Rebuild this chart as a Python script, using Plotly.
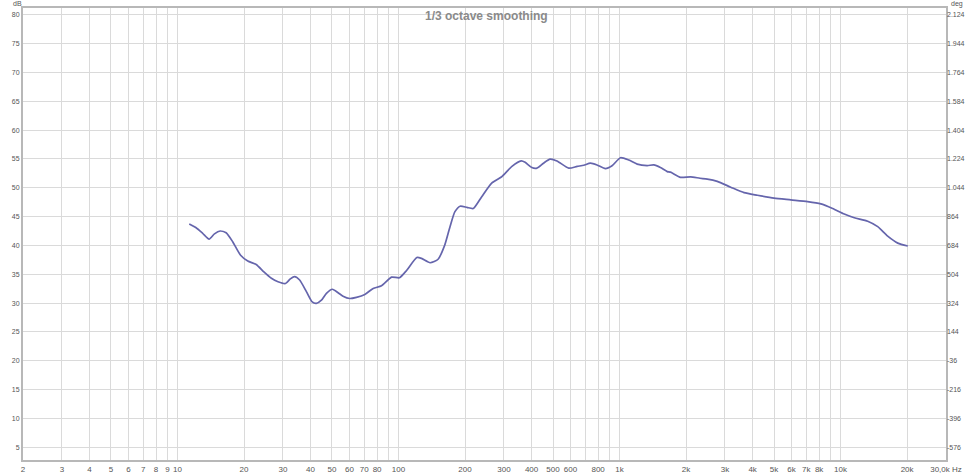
import plotly.graph_objects as go

# Frequency response (1/3 octave smoothing)
freq_hz = [11.3, 12.1, 13.0, 13.9, 14.7, 15.6, 16.6, 17.8, 19.3, 20.8, 22.7, 24.6, 26.6, 28.5,
           30.8, 32.4, 33.9, 35.7, 38.3, 40.7, 42.5, 44.8, 47.2, 50.2, 53.3, 56.1, 60.1, 64.5,
           70.4, 76.8, 83.8, 93, 101, 109, 121, 127, 139, 151, 162, 171, 180, 190, 204, 218,
           238, 264, 293, 326, 359, 374, 401, 423, 453, 485, 521, 589, 643, 689, 738, 791,
           863, 925, 1010, 1101, 1202, 1333, 1429, 1531, 1644, 1702, 1888, 2096, 2311, 2496,
           2768, 3184, 3658, 4206, 5002, 5958, 7092, 8148, 9206, 10394, 11536, 13268, 14730,
           16340, 18154, 20140]
level_db = [43.7, 43.1, 42.1, 41.1, 42.0, 42.5, 42.2, 40.6, 38.3, 37.3, 36.7, 35.4, 34.3, 33.7,
            33.4, 34.2, 34.6, 34.0, 32.0, 30.2, 29.95, 30.5, 31.7, 32.4, 31.8, 31.2, 30.8, 31.0,
            31.5, 32.55, 33.0, 34.5, 34.4, 35.7, 37.9, 37.75, 37.0, 37.6, 40.1, 43.25, 45.85, 46.8,
            46.6, 46.4, 48.45, 50.8, 51.9, 53.7, 54.65, 54.4, 53.5, 53.4, 54.25, 54.95, 54.65, 53.4,
            53.7, 53.9, 54.25, 53.95, 53.3, 53.8, 55.2, 54.8, 54.1, 53.85, 53.95, 53.5, 52.8, 52.7,
            51.8, 51.9, 51.65, 51.5, 51.1, 50.1, 49.15, 48.7, 48.2, 47.9, 47.6, 47.2, 46.4, 45.45,
            44.8, 44.2, 43.25, 41.6, 40.4, 39.9]

x_tick_vals = [2, 3, 4, 5, 6, 7, 8, 9, 10, 20, 30, 40, 50, 60, 70, 80, 90, 100,
               200, 300, 400, 500, 600, 700, 800, 900, 1000, 2000, 3000, 4000, 5000,
               6000, 7000, 8000, 9000, 10000, 20000, 30000]
x_tick_text = ["2", "3", "4", "5", "6", "7", "8", "9", "10", "20", "30", "40", "50", "60", "70",
               "80", "", "100", "200", "300", "400", "500", "600", "", "800", "", "1k", "2k",
               "3k", "4k", "5k", "6k", "7k", "8k", "", "10k", "20k", "30,0k Hz"]
db_ticks = [5, 10, 15, 20, 25, 30, 35, 40, 45, 50, 55, 60, 65, 70, 75, 80]
deg_ticks = [-576, -396, -216, -36, 144, 324, 504, 684, 864, 1044, 1224, 1404, 1584, 1764, 1944, 2124]
deg_labels = ["-576", "-396", "-216", "-36", "144", "324", "504", "684", "864", "1.044",
              "1.224", "1.404", "1.584", "1.764", "1.944", "2.124"]

db_range = [2.8, 81.16]
deg_range = [(v - 5) * 36 - 576 for v in db_range]

fig = go.Figure()
fig.add_trace(go.Scatter(x=freq_hz, y=level_db, mode="lines",
                         line=dict(color="#6565ac", width=1.7, shape="spline", smoothing=0.6),
                         showlegend=False, hoverinfo="x+y"))
fig.add_trace(go.Scatter(x=[None], y=[None], yaxis="y2", showlegend=False, hoverinfo="skip"))

font_family = "Liberation Sans, Arial, sans-serif"
tick_font = dict(family=font_family, size=8, color="#555555")
small_font = dict(family=font_family, size=7, color="#555555")
axis_line = dict(showline=True, linecolor="#b8b8b8", linewidth=2, mirror=True)

fig.update_layout(
    width=975, height=473,
    margin=dict(l=23, r=29, t=8, b=13, autoexpand=False),
    paper_bgcolor="white", plot_bgcolor="white",
    xaxis=dict(type="log", range=[0.30103, 4.4771], tickvals=x_tick_vals, ticktext=x_tick_text,
               showgrid=True, gridcolor="#dadada", gridwidth=1, zeroline=False, ticks="",
               tickfont=tick_font, ticklabelstandoff=0, automargin=False, **axis_line),
    yaxis=dict(range=db_range, tickvals=db_ticks, showgrid=True, gridcolor="#dadada",
               gridwidth=1, zeroline=False, ticks="", tickfont=small_font, ticklabelstandoff=0,
               automargin=False, **axis_line),
    yaxis2=dict(range=deg_range, overlaying="y", side="right", tickvals=deg_ticks,
                ticktext=deg_labels, showgrid=False, zeroline=False, ticks="",
                tickfont=small_font, ticklabelstandoff=0, showline=False, automargin=False),
    annotations=[
        dict(text="<b>1/3 octave smoothing</b>", xref="paper", yref="paper", x=0.502, y=0.983,
             xanchor="center", yanchor="middle", showarrow=False,
             font=dict(family=font_family, size=12, color="#8a8a8a")),
        dict(text="dB", xref="paper", yref="paper", x=-0.0065, y=1.009, xanchor="center",
             yanchor="middle", showarrow=False, font=small_font),
        dict(text="deg", xref="paper", yref="paper", x=1.003, y=1.009, xanchor="left",
             yanchor="middle", showarrow=False, font=small_font),
    ],
)

fig.write_html("out.html", config={"displayModeBar": False},
               post_script="document.body.style.margin='0';")
